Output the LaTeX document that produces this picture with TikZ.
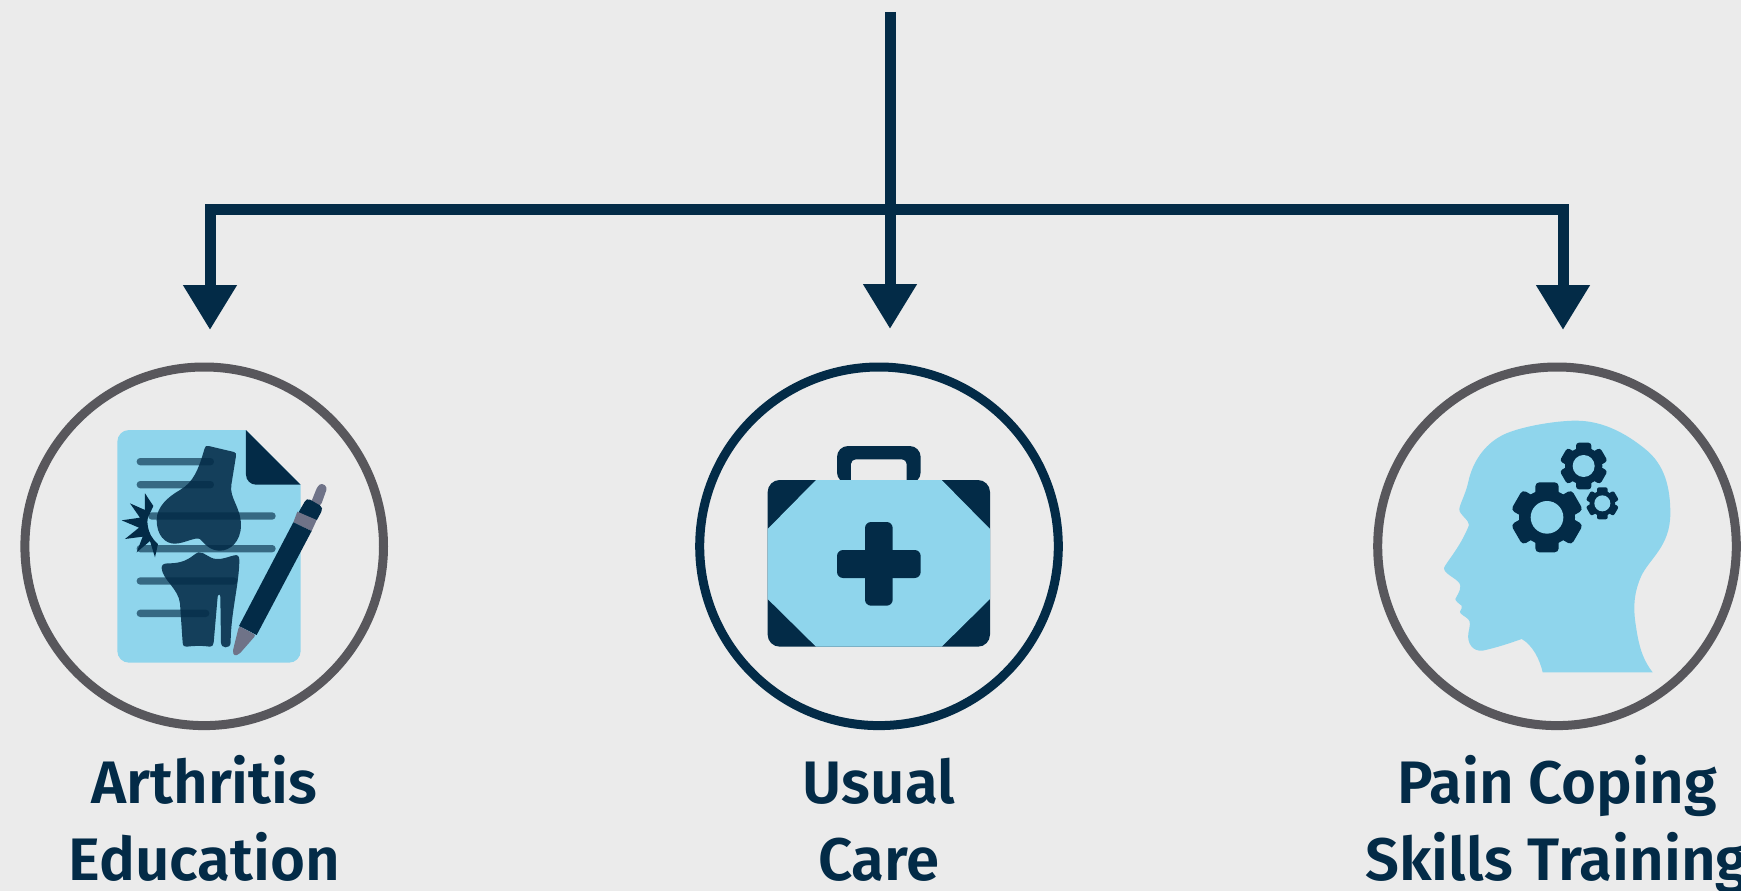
\documentclass[tikz,border=0pt]{standalone}
\usepackage{fontspec}
\setmainfont{Fira Sans SemiBold}
\usetikzlibrary{arrows.meta}
\definecolor{bgc}{HTML}{EBEBEB}
\definecolor{navy}{HTML}{032B47}
\definecolor{sky}{HTML}{8FD5EC}
\definecolor{ring}{HTML}{58575C}
\definecolor{pengrey}{HTML}{6F7388}
\tikzset{
  link/.style={draw=navy,line width=11pt,miter limit=10},
  headed/.style={link,-{Triangle[length=45pt,width=51pt]}},
  badge/.style={circle,draw=#1,line width=9pt,minimum size=358.6pt,inner sep=0pt,outer sep=0pt},
  lbl/.style={text=navy,align=center,anchor=north,inner sep=0pt,font=\fontsize{60}{77}\selectfont},
  zoomL/.style={x=0.33333pt,y=-0.33333pt,shift={(0pt,-350pt)}},
  zoomC/.style={x=0.33333pt,y=-0.33333pt,shift={(680pt,-350pt)}},
  zoomR/.style={x=0.33333pt,y=-0.33333pt,shift={(1341pt,-350pt)}},
  bar/.style={navy,opacity=.63,rounded corners=3.5pt},
  bone/.style={navy,opacity=.88},
}
\newcommand{\cog}[6]{% x y R r width corner
  \begin{scope}[shift={(#1,#2)}]
    \foreach \a in {0,60,120}{\fill[navy,rotate=\a,rounded corners=#6pt] (-#5/2,-#3) rectangle (#5/2,#3);}
    \fill[navy] (0,0) circle ({.8*#3});
    \fill[sky] (0,0) circle (#4);
  \end{scope}}
\begin{document}
\begin{tikzpicture}[x=1pt,y=-1pt]
\useasboundingbox (0,0) rectangle (1741,891);
\fill[bgc] (0,0) rectangle (1741,891);
% connectors
\coordinate (top) at (890,12);
\coordinate (hub) at (890,209);
\coordinate (tipA) at (210,330);
\coordinate (tipB) at (890,329);
\coordinate (tipC) at (1563,330);
\draw[headed] (top) -- (tipB);
\draw[headed] (hub) -| (tipA);
\draw[headed] (hub) -| (tipC);
% badges
\node[badge=ring] (edu) at (204.2,546.3) {};
\node[badge=navy] (care) at (879,546.3) {};
\node[badge=ring] (pain) at (1557,546.3) {};
% labels
\node[lbl] (eduT) at (204.5,753.3) {\rule{0pt}{50pt}Arthritis\\Education};
\node[lbl] (careT) at (879,753.3) {\rule{0pt}{50pt}Usual\\Care};
\node[lbl] (painT) at (1557,753.3) {\rule{0pt}{50pt}Pain Coping\\Skills Training};
% document icon
\begin{scope}[zoomL]
  \fill[sky] (738,240) -- (902,404) -- (902,903) arc[start angle=0,end angle=90,radius=35] -- (387,938) arc[start angle=90,end angle=180,radius=35] -- (352,275) arc[start angle=180,end angle=270,radius=35] -- cycle;
  \fill[navy] (738,240) -- (902,404) -- (768,404) arc[start angle=90,end angle=180,radius=30] -- cycle;
  \fill[bar] (410,324) rectangle (642,346);
  \fill[bar] (410,393) rectangle (642,415);
  \fill[bar] (445,487) rectangle (827,509);
  \fill[bar] (410,585) rectangle (827,607);
  \fill[bar] (410,682) rectangle (712,704);
  \fill[bar] (410,779) rectangle (628,801);
  \fill[bone] (613,298) .. controls (615,289) and (618,286) .. (626,288) -- (702,306) .. controls (708,308) and (709,312) .. (708,318) -- (694,405) .. controls (688,445) and (722,470) .. (723,525) .. controls (723,575) and (690,602) .. (660,602) .. controls (630,602) and (618,585) .. (600,567) .. controls (585,560) and (555,580) .. (525,581) .. controls (495,582) and (470,555) .. (470,510) .. controls (470,470) and (505,440) .. (540,420) .. controls (580,397) and (595,360) .. (613,298) -- cycle;
  \fill[bone] (595,607) .. controls (575,615) and (565,640) .. (505,640) .. controls (490,640) and (484,645) .. (485,655) .. controls (488,690) and (535,715) .. (540,760) -- (548,878) .. controls (549,888) and (553,891) .. (560,890) .. controls (585,887) and (610,887) .. (630,890) .. controls (636,890) and (640,886) .. (641,878) -- (653,740) .. controls (654,732) and (661,732) .. (661,740) -- (663,878) .. controls (664,888) and (670,892) .. (677,892) .. controls (685,892) and (691,888) .. (692,878) .. controls (692,790) and (718,700) .. (718,630) .. controls (718,617) and (712,614) .. (703,616) .. controls (685,620) and (670,628) .. (650,627) .. controls (625,626) and (615,605) .. (595,607) -- cycle;
  \fill[navy] (435,430) -- (460,468) -- (450,490) to[bend right=20] (443,525) to[bend right=20] (474,582) -- (465,622) -- (450,573) -- (410,607) -- (428,560) -- (375,567) -- (417,533) -- (365,511) -- (420,503) -- (390,460) -- (435,480) -- cycle;
  % pen
  \fill[pengrey,rounded corners=3pt] (932,460) -- (953,408) -- (966,399) -- (982,412) -- (962,468) -- cycle;
  \fill[navy,rounded corners=2pt] (894,490) -- (917,450) -- (925,446) -- (965,469) -- (967,480) -- (948,515) -- cycle;
  \fill[pengrey] (892,485) -- (950,510) -- (935,543) -- (880,517) -- cycle;
  \fill[navy] (880,517) -- (935,543) -- (770,855) -- (717,828) -- cycle;
  \fill[pengrey,rounded corners=2.5pt] (717,828) -- (768,855) -- (718,912) -- (703,918) -- (698,905) -- cycle;
\end{scope}
% briefcase icon
\begin{scope}[zoomC]
  \fill[navy,rounded corners=11pt] (471,400) -- (471,288) -- (722,288) -- (722,400) -- cycle;
  \fill[bgc,rounded corners=5pt] (513,410) -- (513,328) -- (680,328) -- (680,410) -- cycle;
  \fill[navy,rounded corners=12pt] (263,390) rectangle (930,890);
  \fill[sky] (408,390) -- (785,390) -- (930,537) -- (930,747) -- (785,890) -- (408,890) -- (263,747) -- (263,537) -- cycle;
  \fill[navy,rounded corners=6pt] (555,516) rectangle (638,767);
  \fill[navy,rounded corners=6pt] (471,600) rectangle (722,684);
\end{scope}
% head icon
\begin{scope}[zoomR]
  \fill[sky] (605,967) .. controls (597,930) and (575,885) .. (542,867) .. controls (505,880) and (470,892) .. (425,902) .. controls (395,905) and (378,880) .. (382,850) .. controls (386,830) and (390,815) .. (382,808) .. controls (375,800) and (355,792) .. (357,785) .. controls (360,778) and (365,772) .. (362,767) .. controls (355,762) and (342,752) .. (343,747) .. controls (347,738) and (358,725) .. (358,708) .. controls (358,688) and (310,675) .. (309,655) .. controls (309,645) and (360,590) .. (384,525) .. controls (385,510) and (355,495) .. (355,478) .. controls (355,465) and (375,430) .. (382,395) .. controls (395,335) and (430,285) .. (480,258) .. controls (525,232) and (640,212) .. (705,212) .. controls (790,212) and (860,255) .. (910,295) .. controls (975,345) and (988,420) .. (988,490) .. controls (988,590) and (925,625) .. (900,680) .. controls (880,725) and (875,770) .. (885,830) .. controls (895,900) and (910,935) .. (935,967) -- cycle;
  \cog{618}{502}{105}{49}{70}{4}
  \cog{728}{348}{70}{33}{46}{3}
  \cog{784}{460}{48}{24}{32}{2}
\end{scope}
\end{tikzpicture}
\end{document}
